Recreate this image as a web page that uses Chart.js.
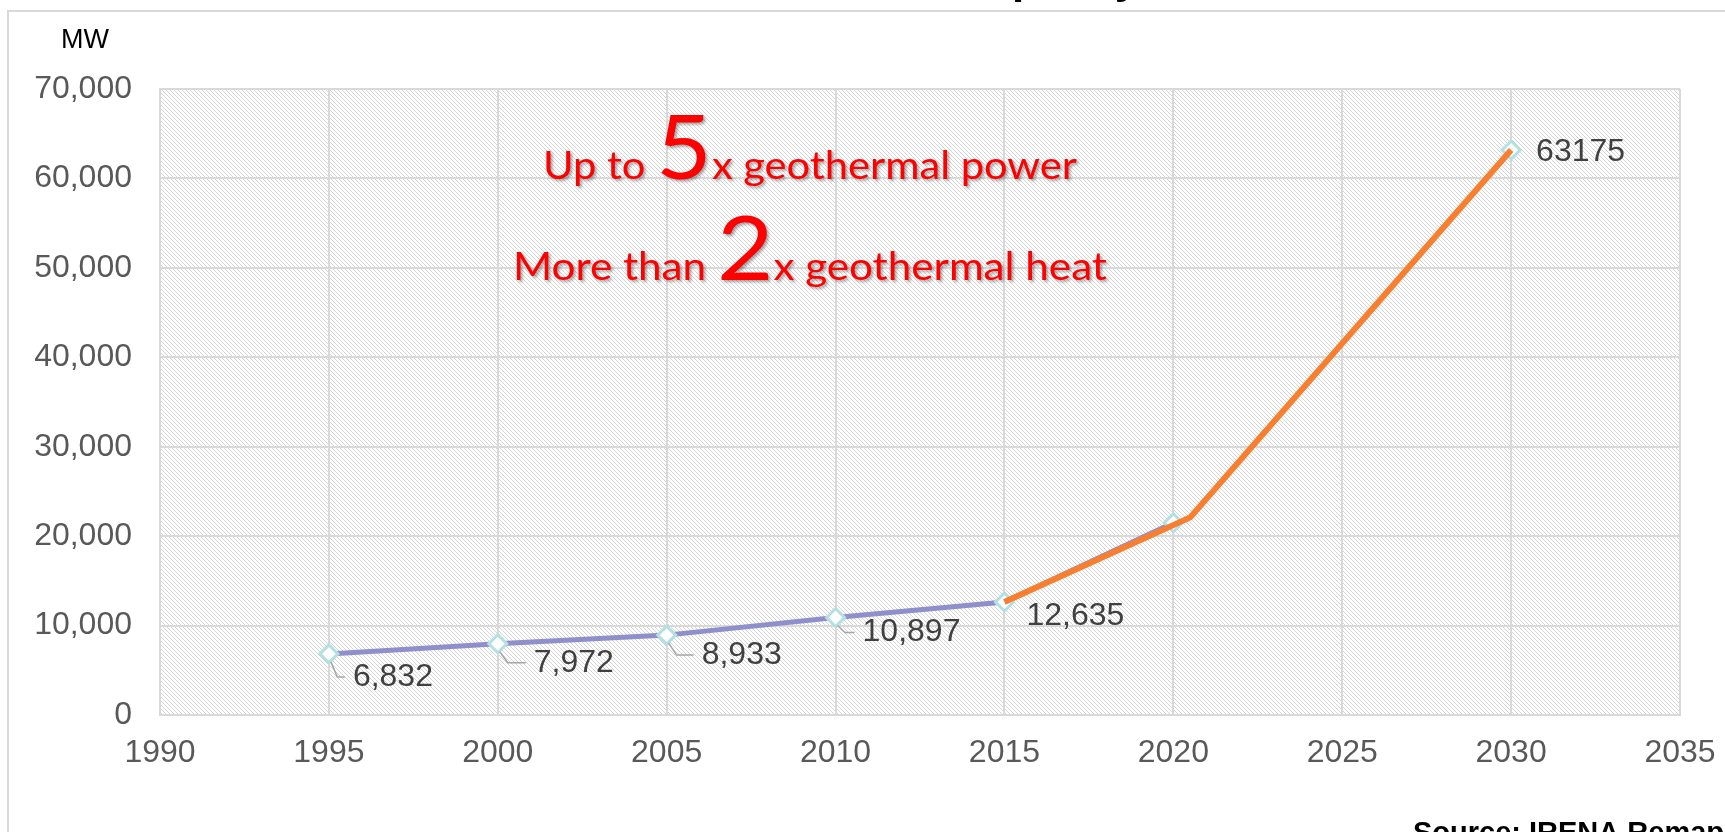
<!DOCTYPE html>
<html>
<head>
<meta charset="utf-8">
<script src="https://cdn.jsdelivr.net/npm/chart.js@4.4.1/dist/chart.umd.min.js"></script>
<style>
  html, body { margin: 0; padding: 0; background: #fff; }
  #wrap { width: 1725px; height: 832px; }
</style>
</head>
<body>
<div id="wrap"><canvas id="capChart" width="1725" height="832"></canvas></div>
<script>
// Geothermal capacity, MW (historic + projection)

const years = [1995, 2000, 2005, 2010, 2015, 2020, 2025, 2030];
const capacityMW = [6832, 7972, 8933, 10897, 12635, 21500, null, 63175];
const pointLabels = ['6,832', '7,972', '8,933', '10,897', '12,635', '', '', '63175'];

const projYears = [2015, 2020.5, 2030];
const projMW = [12635, 22100, 63175];

const xTicks = { min: 1990, max: 2035, step: 5 };
const yTicks = { min: 0, max: 70000, step: 10000 };

const titleText = 'Global Geothermal Capacity';
const unitText = 'MW';
const sourceText = 'Source: IRENA Remap 2030';
const calloutLines = [
    { pre: 'Up to ', big: '5', post: 'x geothermal power' },
    { pre: 'More than ', big: '2', post: 'x geothermal heat' },
];

const FONT = '"Liberation Sans", Arial, sans-serif';

// light downward diagonal hatch, like the Excel plot fill
function makeHatch() {
    const c = document.createElement('canvas');
    c.width = 4; c.height = 4;
    const g = c.getContext('2d');
    g.fillStyle = '#ffffff';
    g.fillRect(0, 0, 4, 4);
    g.fillStyle = '#d4d4d4';
    for (let i = 0; i < 4; i++) g.fillRect(i, i, 1, 1);
    return g.createPattern(c, 'repeat');
}

const backdrop = {
    id: 'backdrop',
    beforeDraw(chart) {
        const { ctx, chartArea: a } = chart;
        ctx.save();
        ctx.fillStyle = makeHatch();
        ctx.fillRect(a.left, a.top, a.right - a.left, a.bottom - a.top);
        // outer frame
        ctx.strokeStyle = '#d9d9d9';
        ctx.lineWidth = 2;
        ctx.beginPath();
        ctx.moveTo(8, chart.height + 5);
        ctx.lineTo(8, 11);
        ctx.lineTo(chart.width + 5, 11);
        ctx.stroke();
        ctx.restore();
    }
};

// value labels with small leader lines
const labelOffsets = [
    { dx: 24, dy: 23, leader: true },
    { dx: 36, dy: 19, leader: true },
    { dx: 35, dy: 20, leader: true },
    { dx: 27, dy: 15, leader: true },
    { dx: 22, dy: 14, leader: false },
    null,
    null,
    { dx: 25, dy: 2, leader: false },
];

const valueLabels = {
    id: 'valueLabels',
    afterDatasetsDraw(chart) {
        const { ctx } = chart;
        const meta = chart.getDatasetMeta(0);
        ctx.save();
        ctx.font = '32px ' + FONT;
        ctx.fillStyle = '#404040';
        ctx.textBaseline = 'middle';
        ctx.textAlign = 'left';
        meta.data.forEach((pt, i) => {
            const o = labelOffsets[i];
            if (!o || !pointLabels[i]) return;
            if (o.leader) {
                ctx.strokeStyle = '#a6a6a6';
                ctx.lineWidth = 1.5;
                ctx.beginPath();
                ctx.moveTo(pt.x + 2, pt.y + 8);
                ctx.lineTo(pt.x + Math.min(o.dx * 0.35, 10), pt.y + o.dy);
                ctx.lineTo(pt.x + o.dx - 8, pt.y + o.dy);
                ctx.stroke();
            }
            ctx.fillText(pointLabels[i], pt.x + o.dx, pt.y + o.dy);
        });
        ctx.restore();
    }
};

const extras = {
    id: 'extras',
    afterDraw(chart) {
        const { ctx, chartArea: a } = chart;
        const w = a.right - a.left, h = a.bottom - a.top;
        ctx.save();

        // title, mostly above the visible page
        ctx.font = 'bold 44px ' + FONT;
        ctx.fillStyle = '#000';
        ctx.textBaseline = 'alphabetic';
        ctx.textAlign = 'left';
        const pre = ctx.measureText('Global Geothermal Ca').width;
        ctx.fillText(titleText, 1012 - pre, -7);

        // unit
        ctx.font = '27px ' + FONT;
        ctx.fillText(unitText, 61, 48);

        // source
        ctx.font = 'bold 29px ' + FONT;
        ctx.fillText(sourceText, 1413, 842);

        // red callouts
        const cx = a.left + w * 0.4276;
        const baselines = [a.top + h * 0.1438, a.top + h * 0.305];
        const targetW = [534, 594];
        const small = '39px Lato, "Noto Sans", sans-serif';
        const big = '90px Lato, "Noto Sans", sans-serif';
        calloutLines.forEach((ln, i) => {
            ctx.font = small;
            const w1 = ctx.measureText(ln.pre).width;
            const w3 = ctx.measureText(ln.post).width;
            ctx.font = big;
            const w2 = ctx.measureText(ln.big).width;
            const total = w1 + w2 + w3;
            const sx = targetW[i] / total;
            ctx.save();
            ctx.translate(cx - targetW[i] / 2, baselines[i]);
            ctx.scale(sx, 1);
            ctx.fillStyle = '#ff0000';
            ctx.shadowColor = 'rgba(0,0,0,0.35)';
            ctx.shadowOffsetX = 2;
            ctx.shadowOffsetY = 2;
            ctx.shadowBlur = 3;
            ctx.font = small;
            ctx.fillText(ln.pre, 0, 0);
            ctx.font = big;
            ctx.fillText(ln.big, w1, 0);
            ctx.font = small;
            ctx.fillText(ln.post, w1 + w2, 0);
            ctx.restore();
        });
        ctx.restore();
    }
};

const ctx = document.getElementById('capChart').getContext('2d');

new Chart(ctx, {
    type: 'line',
    data: {
        datasets: [
            {
                label: 'Capacity',
                data: years.map((y, i) => ({ x: y, y: capacityMW[i] })),
                borderColor: '#8f8fcc',
                borderWidth: 5,
                spanGaps: false,
                pointStyle: 'rectRot',
                pointRadius: 9,
                pointBackgroundColor: '#ffffff',
                pointBorderColor: '#b4e0e3',
                pointBorderWidth: 3,
                tension: 0,
                order: 1,
            },
            {
                label: 'Projection',
                data: projYears.map((y, i) => ({ x: y, y: projMW[i] })),
                borderColor: '#f77f2f',
                borderWidth: 6,
                pointRadius: 0,
                tension: 0,
                order: 0,
            }
        ]
    },
    options: {
        responsive: false,
        animation: false,
        layout: { padding: { top: 89, right: 0, left: 0, bottom: 0 } },
        plugins: {
            legend: { display: false },
            tooltip: { enabled: false },
        },
        scales: {
            x: {
                type: 'linear',
                min: xTicks.min,
                max: xTicks.max,
                afterFit: s => { s.height = 117; s.paddingRight = 45; },
                grid: { color: '#d9d9d9', lineWidth: 2, drawTicks: false },
                border: { color: '#d9d9d9', width: 2 },
                ticks: {
                    stepSize: xTicks.step,
                    padding: 19,
                    color: '#595959',
                    font: { family: FONT, size: 32 },
                    callback: v => String(v),
                }
            },
            y: {
                min: yTicks.min,
                max: yTicks.max,
                afterFit: s => { s.width = 160; },
                grid: { color: '#d9d9d9', lineWidth: 2, drawTicks: false },
                border: { color: '#d9d9d9', width: 2 },
                ticks: {
                    stepSize: yTicks.step,
                    padding: 28,
                    color: '#595959',
                    font: { family: FONT, size: 32 },
                    callback: v => Number(v).toLocaleString('en-US'),
                }
            }
        }
    },
    plugins: [backdrop, valueLabels, extras]
});
</script>
</body>
</html>
